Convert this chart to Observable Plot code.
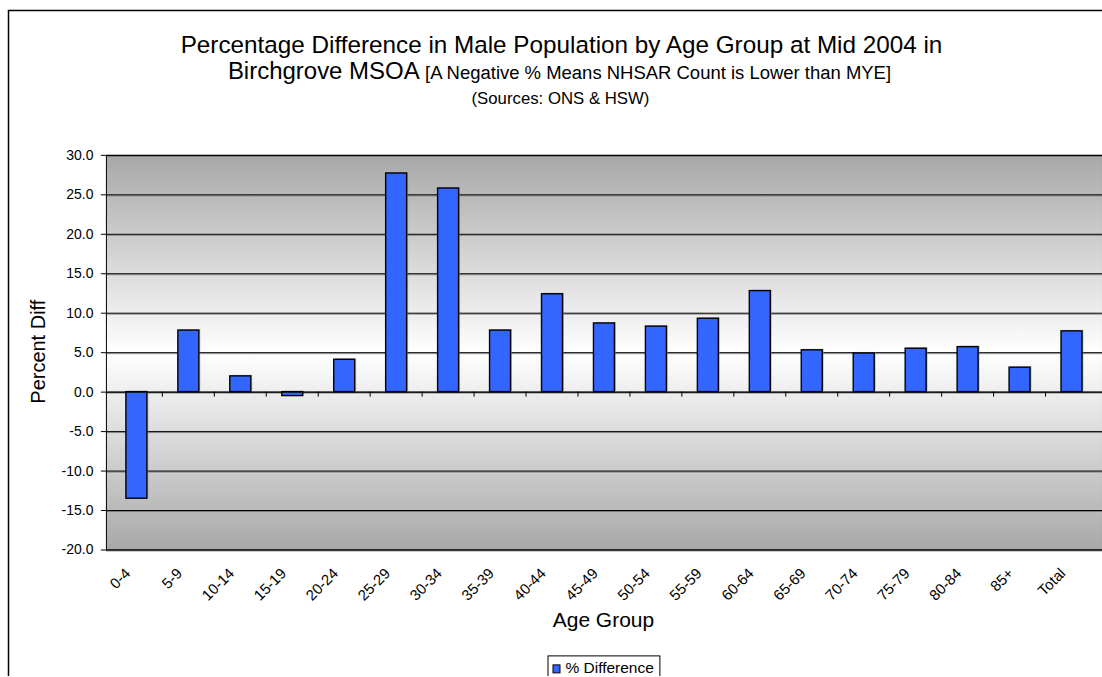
<!DOCTYPE html>
<html><head><meta charset="utf-8">
<script src="https://cdn.jsdelivr.net/npm/d3@7"></script>
<script src="https://cdn.jsdelivr.net/npm/@observablehq/plot@0.6"></script>
<style>
html,body{margin:0;padding:0;background:#fff;overflow:hidden;}
#wrap{position:relative;width:1102px;height:677px;overflow:hidden;}
#wrap svg{display:block;}
</style></head><body><div id="wrap"></div>
<script>
const categories = ["0-4","5-9","10-14","15-19","20-24","25-29","30-34","35-39","40-44","45-49","50-54","55-59","60-64","65-69","70-74","75-79","80-84","85+","Total"];
const values = [-13.5,7.8,2.0,-0.5,4.1,27.7,25.8,7.8,12.4,8.7,8.3,9.3,12.8,5.3,4.9,5.5,5.7,3.1,7.7];
const yTicks = [-20,-15,-10,-5,0,5,10,15,20,25,30];
const titleLine1 = "Percentage Difference in Male Population by Age Group at Mid 2004 in";
const titleLine2a = "Birchgrove MSOA ";
const titleLine2b = "[A Negative % Means NHSAR Count is Lower than MYE]";
const titleLine3 = "(Sources: ONS & HSW)";
const yLabel = "Percent Diff";
const xLabel = "Age Group";
const seriesName = "% Difference";

const data = categories.map((c, i) => ({age: c, pct: values[i]}));
const FONT = "'Liberation Sans', Arial, sans-serif";

const chart = Plot.plot({
  width: 1103, height: 677,
  marginTop: 155, marginBottom: 127, marginLeft: 106, marginRight: 0,
  style: {fontFamily: FONT, background: "transparent", color: "#000"},
  x: {domain: categories, paddingInner: 0.587, paddingOuter: 0.2935, label: null},
  y: {domain: [-20, 30], label: null},
  marks: [
    Plot.frame({fill: "url(#plotBg)", stroke: null}),
    Plot.ruleY(yTicks, {stroke: "#555", strokeOpacity: 0.6, dy: 1}),
    Plot.ruleY(yTicks, {stroke: "#000", strokeWidth: 1}),
    Plot.barY(data, {x: "age", y: "pct", fill: "#888", fillOpacity: 0.5, stroke: "none", dx: 1.5, dy: -1}),
    Plot.barY(data, {x: "age", y: "pct", fill: "#3366ff", stroke: "#000", strokeWidth: 1.4}),
    Plot.ruleY([0], {stroke: "#000"}),
    Plot.frame({stroke: "#000", fill: "none"}),
    Plot.axisY({ticks: yTicks, tickFormat: d => d.toFixed(1), tickSize: 5, tickPadding: 8, fontSize: 14, label: null}),
    Plot.axisX({tickRotate: -45, tickSize: 0, tickPadding: 16, fontSize: 15, dx: -9, dy: 5, label: null})
  ]
});

document.getElementById("wrap").appendChild(chart);
const svg = d3.select(chart);
svg.attr("font-family", FONT);

// gradient background definition
const defs = svg.insert("defs", ":first-child");
const grad = defs.append("linearGradient").attr("id", "plotBg").attr("x1", 0).attr("y1", 0).attr("x2", 0).attr("y2", 1);
grad.append("stop").attr("offset", "0%").attr("stop-color", "#a8a8a8");
grad.append("stop").attr("offset", "50%").attr("stop-color", "#ffffff");
grad.append("stop").attr("offset", "100%").attr("stop-color", "#a8a8a8");

// category boundary ticks on the zero line
const xs = chart.scale("x");
const ys = chart.scale("y");
const y0 = ys.apply(0);
const tg = svg.append("g").attr("stroke", "#000").attr("stroke-width", 1);
for (let i = 1; i < categories.length; i++) {
  const b = (xs.apply(categories[i - 1]) + xs.bandwidth + xs.apply(categories[i])) / 2;
  tg.append("line").attr("x1", b).attr("x2", b).attr("y1", y0).attr("y2", y0 + 5);
}

// outer chart border
svg.append("rect").attr("x", 8.5).attr("y", 10.5).attr("width", 1200).attr("height", 800)
  .attr("fill", "none").attr("stroke", "#000").attr("stroke-width", 1.5);

// titles
svg.append("text").attr("x", 562).attr("y", 53).attr("text-anchor", "middle")
  .attr("font-size", 24.3).text(titleLine1);
const t2 = svg.append("text").attr("x", 560).attr("y", 79).attr("text-anchor", "middle");
t2.append("tspan").attr("font-size", 24).text(titleLine2a);
t2.append("tspan").attr("font-size", 18.5).text(titleLine2b);
svg.append("text").attr("x", 561).attr("y", 104).attr("text-anchor", "middle")
  .attr("font-size", 16.8).text(titleLine3);

// axis titles
svg.append("text").attr("transform", "translate(45,352) rotate(-90)").attr("text-anchor", "middle")
  .attr("font-size", 20).text(yLabel);
svg.append("text").attr("x", 604).attr("y", 628).attr("text-anchor", "middle")
  .attr("font-size", 21).text(xLabel);

// legend
const lg = svg.append("g").attr("text-anchor", "start");
lg.append("rect").attr("x", 548.5).attr("y", 656.5).attr("width", 112).attr("height", 40)
  .attr("fill", "#fff").attr("stroke", "#000").attr("stroke-width", 1);
lg.append("rect").attr("x", 553.5).attr("y", 665.5).attr("width", 7).attr("height", 8)
  .attr("fill", "#3366ff").attr("stroke", "#000").attr("stroke-width", 1);
lg.append("text").attr("x", 566).attr("y", 674).attr("text-anchor", "start").attr("font-size", 15.5).text(seriesName);
</script></body></html>
